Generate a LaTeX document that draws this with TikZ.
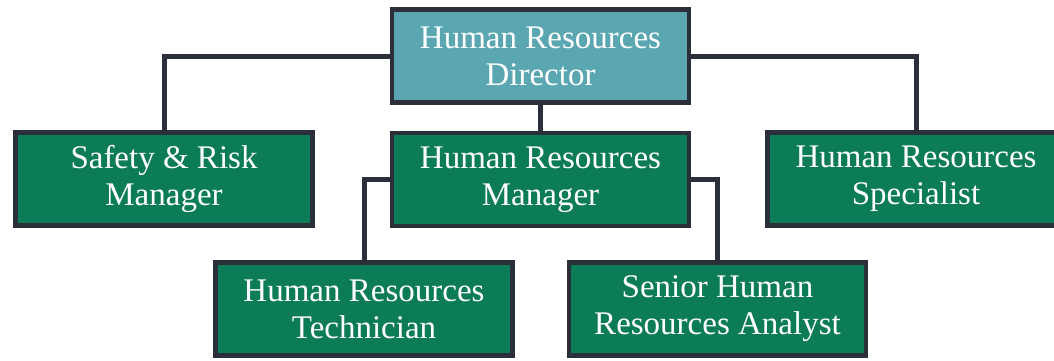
\documentclass[tikz,border=0pt]{standalone}
\usepackage{fontspec}
\setmainfont{Liberation Serif}
\definecolor{linec}{HTML}{2B2F3A}
\definecolor{dirc}{HTML}{5AA7B2}
\definecolor{grn}{HTML}{0B7B58}
\begin{document}
\begin{tikzpicture}[x=1pt,y=-1pt,
  box/.style={draw=linec,line width=4.5pt,fill=grn,text=white,minimum width=297pt,minimum height=93pt,inner sep=0pt,align=center,font=\fontsize{33}{37}\selectfont},
  conn/.style={draw=linec,line width=5pt}]
\useasboundingbox (0,0) rectangle (1054,360);
\node[box,fill=dirc] (dir) at (540.5,56) {Human Resources\\Director};
\node[box] (mgr) at (540.5,179.5) {Human Resources\\Manager};
\node[box] (saf) at (164,179) {Safety \& Risk\\Manager};
\node[box] (spc) at (916,179) {Human Resources\\Specialist};
\node[box] (tec) at (364,309) {Human Resources\\Technician};
\node[box] (ana) at (717.5,309) {Senior Human\\Resources Analyst};
\draw[conn] (dir.west) -| (saf.north);
\draw[conn] (dir.east) -| (spc.north);
\draw[conn] (dir.south) -- (mgr.north);
\draw[conn] (mgr.west) -| (tec.north);
\draw[conn] (mgr.east) -| (ana.north);
\end{tikzpicture}
\end{document}
